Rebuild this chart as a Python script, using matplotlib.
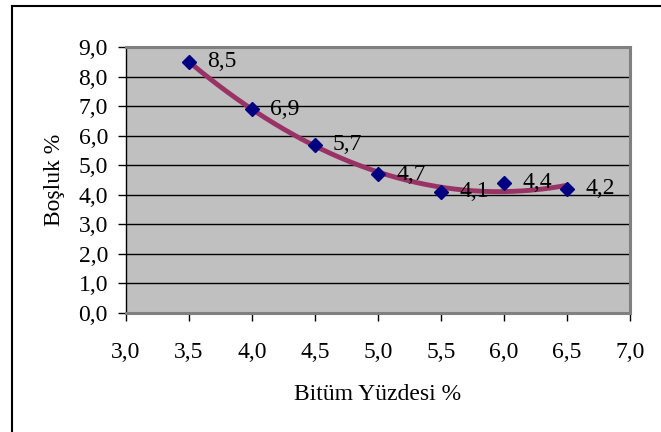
import matplotlib.pyplot as plt
import numpy as np
from matplotlib.lines import Line2D
from matplotlib.ticker import FuncFormatter, MultipleLocator

# Bitüm yüzdesi ve boşluk değerleri
bitum = [3.5, 4.0, 4.5, 5.0, 5.5, 6.0, 6.5]
bosluk = [8.5, 6.9, 5.7, 4.7, 4.1, 4.4, 4.2]
etiketler = ['8,5', '6,9', '5,7', '4,7', '4,1', '4,4', '4,2']

plt.rcParams['font.family'] = ['Liberation Serif', 'DejaVu Serif']


def virgul(v, pos):
    return f'{v:.1f}'.replace('.', ',')


def main():
    fig = plt.figure(figsize=(6.61, 4.32), dpi=100)
    ax = fig.add_axes([0.1906, 0.2755, 0.7625, 0.6157])

    # grafik çerçevesi: sol ve üst kenar
    sol, ust = 11.5 / 661, 1 - 5.5 / 432
    fig.add_artist(Line2D([sol, sol], [0, ust], transform=fig.transFigure,
                          color='black', linewidth=1.5))
    fig.add_artist(Line2D([sol, 1], [ust, ust], transform=fig.transFigure,
                          color='black', linewidth=1.5))

    ax.set_facecolor('#c0c0c0')
    for s in ax.spines.values():
        s.set_color('#808080')
        s.set_linewidth(2.2)
    ax.spines['left'].set_color('black')
    ax.spines['left'].set_linewidth(1.0)

    ax.set_xlim(3.0, 7.0)
    ax.set_ylim(0.0, 9.0)
    ax.xaxis.set_major_locator(MultipleLocator(0.5))
    ax.yaxis.set_major_locator(MultipleLocator(1.0))
    ax.xaxis.set_major_formatter(FuncFormatter(virgul))
    ax.yaxis.set_major_formatter(FuncFormatter(virgul))
    ax.tick_params(axis='both', labelsize=17, direction='out', length=6,
                   width=1, color='black')
    ax.tick_params(axis='x', pad=15)
    ax.tick_params(axis='y', pad=7)
    ax.grid(axis='y', color='black', linewidth=1.0)
    ax.set_axisbelow(True)

    # ikinci derece polinom eğilim çizgisi
    katsayi = np.polyfit(bitum, bosluk, 2)
    xx = np.linspace(bitum[0], bitum[-1], 200)
    ax.plot(xx, np.polyval(katsayi, xx), color='#993366', linewidth=3.5,
            solid_capstyle='round', zorder=3)

    ax.plot(bitum, bosluk, linestyle='none', marker='D', markersize=7.5,
            color='#000080', zorder=4)

    for x, y, t in zip(bitum, bosluk, etiketler):
        ax.annotate(t, (x, y), xytext=(13, 0), textcoords='offset points',
                    fontsize=17, va='center', ha='left', zorder=5)

    ax.set_xlabel('Bitüm Yüzdesi %', fontsize=17, labelpad=15)
    ax.set_ylabel('Boşluk %', fontsize=17, labelpad=10)

    fig.savefig('out.png', dpi=100)


if __name__ == '__main__':
    main()
